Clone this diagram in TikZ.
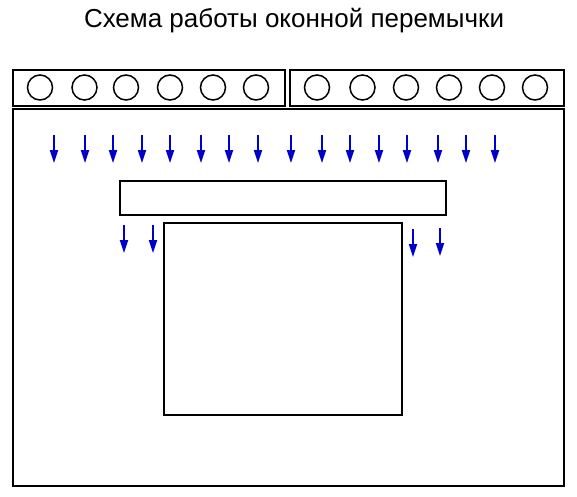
\documentclass[tikz,border=0pt]{standalone}
\usepackage{fontspec}
\setmainfont{Liberation Sans}
\usetikzlibrary{arrows.meta}
\definecolor{arrblue}{RGB}{0,0,205}
\tikzset{
  box/.style={draw=black, line width=2pt, fill=white, inner sep=0pt},
  hole/.style={draw=black, line width=1.5pt, circle, minimum size=25pt, inner sep=0pt},
  load/.style={draw=arrblue, line width=1.8pt, -{Triangle[length=13pt,width=8pt]}},
}
\begin{document}
\begin{tikzpicture}[x=1pt,y=-1pt]
\useasboundingbox (0,0) rectangle (577,496);
\node[font=\fontsize{26}{30}\selectfont] (title) at (294,20.5) {Схема работы оконной перемычки};
% wall
\node[box, minimum width=551pt, minimum height=377pt, anchor=north west] (wall) at (12,107.5) {};
% slabs
\node[box, minimum width=272pt, minimum height=36pt, anchor=north west] (slabL) at (12,69) {};
\node[box, minimum width=274pt, minimum height=36pt, anchor=north west] (slabR) at (289,69) {};
\foreach \x [count=\i] in {40,84.5,126,170,213,256}
  \node[hole] (hl\i) at (\x,87.5) {};
\foreach \x [count=\i] in {317,362.5,406,449,492,535}
  \node[hole] (hr\i) at (\x,87.5) {};
% lintel and window
\node[box, line width=2.4pt, minimum width=326pt, minimum height=34pt, anchor=north west] (lintel) at (119,180) {};
\node[box, line width=1.6pt, minimum width=238pt, minimum height=192pt, anchor=north west] (window) at (163,222) {};
% load arrows
\foreach \x [count=\i] in {54,85,113,142,170,201,229,258,291,322,350,379,407,438,466,495} {
  \coordinate (ta\i) at (\x,135);
  \coordinate (tb\i) at (\x,163);
  \draw[load] (ta\i) -- (tb\i);
}
\foreach \x/\ya/\yb [count=\i] in {124/225/253,153/225/253,413/229/257,440/228/256} {
  \coordinate (la\i) at (\x,\ya);
  \coordinate (lb\i) at (\x,\yb);
  \draw[load] (la\i) -- (lb\i);
}
\end{tikzpicture}
\end{document}
